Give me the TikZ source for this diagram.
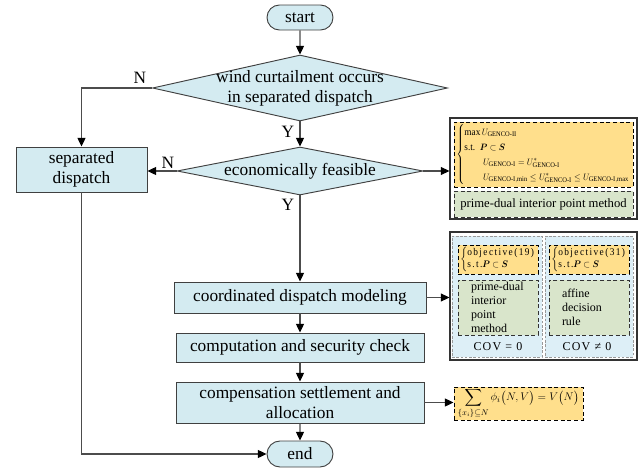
\documentclass[tikz,border=0pt]{standalone}
\usepackage{amsmath,amssymb,bm}
\usepackage{graphicx}
\usepackage{fontspec}
\setmainfont{Liberation Serif}
\usetikzlibrary{shapes.geometric,shapes.misc,arrows.meta}
\definecolor{flowblue}{HTML}{D4EBF1}
\definecolor{goldfill}{HTML}{FFDF8C}
\definecolor{greenfill}{HTML}{D9E5CB}
\definecolor{panelblue}{HTML}{DDEFF7}
\begin{document}
\begin{tikzpicture}[x=0.75pt,y=-0.75pt,
  font=\fontsize{13}{15}\selectfont,
  flow/.style={draw=black!75, fill=flowblue, line width=0.7pt, inner sep=0pt, align=center},
  term/.style={flow, rounded rectangle, minimum width=49.5pt},
  dec/.style={flow, diamond},
  proc/.style={flow, rectangle},
  conn/.style={draw=black!70, line width=0.8pt, -{Triangle[length=6.5pt,width=6pt,black]}},
  lbl/.style={inner sep=1pt},
  outerbox/.style={draw=black!80, line width=0.8pt, fill=white, rectangle, inner sep=0pt},
  ybox/.style={draw=black, fill=goldfill, dash pattern=on 3pt off 2pt, line width=0.7pt, rectangle, inner sep=0pt},
  gbox/.style={draw=black!80, fill=greenfill, dash pattern=on 3pt off 2pt, line width=0.7pt, rectangle, inner sep=0pt},
  pbox/.style={draw=black!40, fill=panelblue, dash pattern=on 2pt off 1.2pt, line width=0.5pt, rectangle, inner sep=0pt},
  gtext/.style={align=left, text width=40.5pt, inner xsep=9.75pt, inner ysep=0pt, font=\fontsize{9}{10.5}\selectfont},
  covtext/.style={inner sep=0pt, font=\fontsize{9}{11}\selectfont\addfontfeature{LetterSpace=10}}
]
\useasboundingbox (0,0) rectangle (644,468);

% flowchart nodes
\node[term, minimum height=18.75pt] (start) at (300,17.5) {start};
\node[dec, minimum width=221.25pt, minimum height=49.5pt] (d1) at (300,88)
  {\makebox[0pt]{\begin{tabular}{@{}c@{}}wind curtailment occurs\\in separated dispatch\end{tabular}}};
\node[dec, minimum width=184.5pt, minimum height=36pt] (d2) at (300,171)
  {\makebox[0pt]{economically feasible}};
\node[proc, minimum width=98.25pt, minimum height=33.75pt] (sep) at (81.5,169.5) {separated\\dispatch};
\node[proc, minimum width=189pt, minimum height=23.25pt] (coord) at (300,297.5) {coordinated dispatch modeling};
\node[proc, minimum width=186pt, minimum height=21.75pt] (comp) at (300,347.5) {computation and security check};
\node[proc, minimum width=186pt, minimum height=30.75pt] (comps) at (300,402.5) {compensation settlement and\\allocation};
\node[term, minimum height=19.5pt] (end) at (300,454) {end};

% right box 1
\node[outerbox, minimum width=140.25pt, minimum height=75.75pt] (b1) at (543.5,168.5) {};
\node[ybox, minimum width=134.25pt, minimum height=48.75pt] (y1) at (543.5,154.5) {};
\node[inner sep=0pt, anchor=west] (f1) at (456,154.5) {\resizebox*{130pt}{45pt}{$\left\{\renewcommand{\arraystretch}{1.3}\begin{array}{@{}l@{}}
  \max U_{\mathrm{GENCO\text{-}II}}\\
  \text{s.t.}\ \ \bm{P}\subset\bm{S}\\
  \qquad U_{\mathrm{GENCO\text{-}I}}=U^{*}_{\mathrm{GENCO\text{-}I}}\\
  \qquad U_{\mathrm{GENCO\text{-}I,min}}\le U^{*}_{\mathrm{GENCO\text{-}I}}\le U_{\mathrm{GENCO\text{-}I,max}}
  \end{array}\right.$}};
\node[gbox, minimum width=134.25pt, minimum height=19.5pt, font=\fontsize{9.5}{11}\selectfont] (g1) at (543.5,204) {prime-dual interior point method};

% right box 2
\node[outerbox, minimum width=140.25pt, minimum height=96pt] (b2) at (543.5,296) {};
\node[pbox, minimum width=67.5pt, minimum height=90.75pt] (pL) at (497,296.5) {};
\node[pbox, minimum width=66pt, minimum height=90.75pt] (pR) at (589,296.5) {};
\node[ybox, minimum width=60pt, minimum height=21.75pt] (yL) at (498,259.5) {};
\node[ybox, minimum width=60pt, minimum height=21.75pt] (yR) at (589,259.5) {};
\node[inner sep=0pt, anchor=west] (oL) at (460,259.5) {\resizebox*{56pt}{18.5pt}{$\left\{\begin{array}{@{}l@{}}
  \text{\addfontfeature{LetterSpace=15}objective(19)}\\
  \text{\addfontfeature{LetterSpace=15}s.t.}\bm{P}\subset\bm{S}\end{array}\right.$}};
\node[inner sep=0pt, anchor=west] (oR) at (551,259.5) {\resizebox*{56pt}{18.5pt}{$\left\{\begin{array}{@{}l@{}}
  \text{\addfontfeature{LetterSpace=15}objective(31)}\\
  \text{\addfontfeature{LetterSpace=15}s.t.}\bm{P}\subset\bm{S}\end{array}\right.$}};
\node[gbox, gtext, minimum height=41.25pt] (gL) at (498,307.5) {prime-dual\\interior\\point\\method};
\node[gbox, gtext, minimum height=41.25pt] (gR) at (589,307.5) {affine\\decision\\rule};
\node[covtext] (cL) at (498,347) {COV = 0};
\node[covtext] (cR) at (587,347) {COV ≠ 0};

% formula box
\node[ybox, minimum width=96.75pt, minimum height=24.75pt] (fx) at (518.5,403.5)
  {\resizebox*{91pt}{23pt}{$\displaystyle\sum_{\{x_i\}\subseteq N}\phi_i\big(N,V\big)=V\big(N\big)$}};

% connectors
\draw[conn] (start) -- (d1);
\draw[conn] (d1.west) -| (sep.north);
\draw[conn] (d1.south) -- (d2.north);
\draw[conn] (d2.west) -- (d2.west -| sep.east);
\draw[conn] (d2.east) -- (d2.east -| b1.west);
\draw[conn] (d2.south) -- (coord.north);
\draw[conn] (coord) -- (comp);
\draw[conn] (comp) -- (comps);
\draw[conn] (comps) -- (end);
\draw[conn] (coord.east) -- (coord.east -| b2.west);
\draw[conn] (comps.east) -- (comps.east -| fx.west);
\draw[conn] (sep.south) |- (end.west);

% labels
\node[lbl] (n1) at (140,78) {N};
\node[lbl] (y1l) at (288,132) {Y};
\node[lbl] (n2) at (168,163) {N};
\node[lbl] (y2l) at (288,205) {Y};
\end{tikzpicture}
\end{document}
